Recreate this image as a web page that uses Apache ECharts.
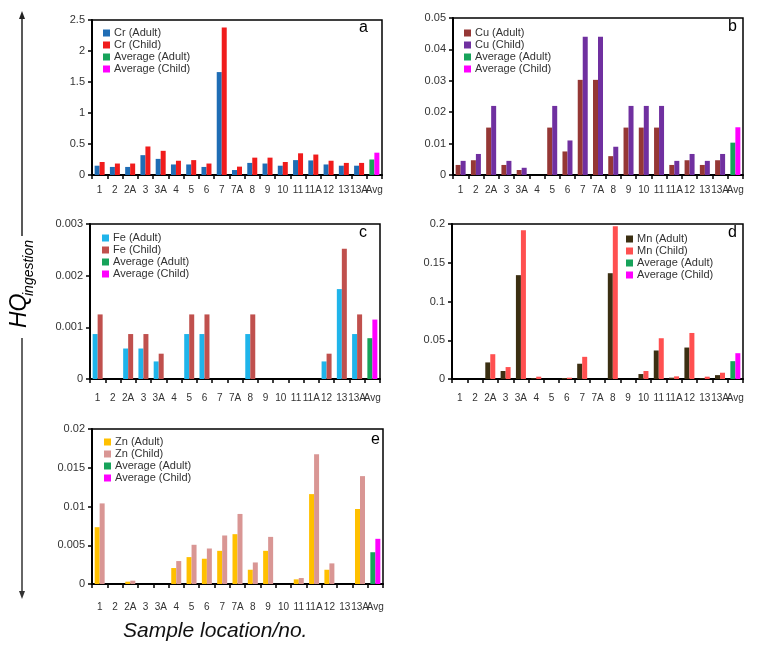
<!DOCTYPE html>
<html><head><meta charset="utf-8">
<script src="https://cdn.jsdelivr.net/npm/echarts@6/dist/echarts.min.js"></script>
<style>html,body{margin:0;padding:0;background:#fff}#c{width:769px;height:657px}</style>
</head><body><div id="c"></div>
<script>
const categories = ['1','2','2A','3','3A','4','5','6','7','7A','8','9','10','11','11A','12','13','13A','Avg'];
// values for sites 1..13A (Avg handled by the average arrays)
const crAdult = [0.15,0.13,0.13,0.32,0.26,0.17,0.17,0.13,1.66,0.08,0.195,0.185,0.15,0.24,0.235,0.17,0.15,0.15];
const crChild = [0.21,0.185,0.185,0.46,0.39,0.23,0.24,0.185,2.38,0.135,0.28,0.28,0.21,0.35,0.33,0.23,0.195,0.195];
const crAverage = [0.25,0.36];
const cuAdult = [0.0032,0.0047,0.0151,0.0032,0.0016,0,0.0151,0.0075,0.0303,0.0303,0.006,0.0151,0.0151,0.0151,0.0032,0.0047,0.0032,0.0047];
const cuChild = [0.0045,0.0067,0.022,0.0045,0.0023,0,0.022,0.011,0.044,0.044,0.009,0.022,0.022,0.022,0.0045,0.0067,0.0045,0.0067];
const cuAverage = [0.0103,0.0152];
const feAdult = [0.00087,0,0.00059,0.00059,0.00034,0,0.00087,0.00087,0,0,0.00087,0,0,0,0,0.00034,0.00174,0.00087];
const feChild = [0.00125,0,0.00087,0.00087,0.00049,0,0.00125,0.00125,0,0,0.00125,0,0,0,0,0.00049,0.00252,0.00125];
const feAverage = [0.00079,0.00115];
const mnAdult = [0,0,0.0214,0.0103,0.134,0.001,0,0.0013,0.0197,0,0.1365,0,0.0064,0.0368,0.0017,0.0406,0.0009,0.005];
const mnChild = [0,0,0.032,0.0154,0.192,0.003,0,0.0017,0.0286,0,0.197,0,0.0103,0.0526,0.0034,0.0594,0.003,0.0081];
const mnAverage = [0.023,0.0333];
const znAdult = [0.00733,0,0.0003,0,0,0.00206,0.00347,0.00326,0.00428,0.00643,0.00184,0.00428,0,0.0006,0.0116,0.00184,0,0.00968];
const znChild = [0.0104,0,0.00043,0,0,0.00296,0.00506,0.00458,0.00626,0.00904,0.00278,0.00608,0,0.00077,0.01675,0.00266,0,0.01392];
const znAverage = [0.0041,0.00583];
const yTicks = {a:[0,2.5,0.5], b:[0,0.05,0.01], c:[0,0.003,0.001], d:[0,0.2,0.05], e:[0,0.02,0.005]};

const FONT = "'Liberation Sans', Arial, sans-serif";
const panels = [
  {key:'a', el:'Cr', adult:crAdult, child:crChild, avg:crAverage, ca:'#1f6db5', cc:'#f01c1c',
   grid:{left:92,top:20,width:290,height:155}, legend:{left:103,top:27}, label:[364,30], lm:10},
  {key:'b', el:'Cu', adult:cuAdult, child:cuChild, avg:cuAverage, ca:'#953735', cc:'#7030a0',
   grid:{left:453,top:18,width:290,height:157}, legend:{left:464,top:27}, label:[733,29], lm:10},
  {key:'c', el:'Fe', adult:feAdult, child:feChild, avg:feAverage, ca:'#1fb4ea', cc:'#c0504d',
   grid:{left:90,top:224,width:290,height:155}, legend:{left:102,top:232}, label:[364,235], lm:14},
  {key:'d', el:'Mn', adult:mnAdult, child:mnChild, avg:mnAverage, ca:'#3b2f12', cc:'#ff5050',
   grid:{left:452,top:224,width:291,height:155}, legend:{left:626,top:233}, label:[733,235], lm:14},
  {key:'e', el:'Zn', adult:znAdult, child:znChild, avg:znAverage, ca:'#ffc000', cc:'#d99694',
   grid:{left:92,top:429,width:291,height:155}, legend:{left:104,top:436}, label:[376,442], lm:18}
];
const AVG_A = '#17a35a', AVG_C = '#ff00ff';
const blanks = categories.slice(0, categories.length - 1).map(() => '-');

const option = {
  animation:false, backgroundColor:'#fff',
  textStyle:{fontFamily:FONT},
  grid:[], xAxis:[], yAxis:[], legend:[], series:[], graphic:[]
};
panels.forEach((p, i) => {
  option.grid.push(Object.assign({show:true, borderColor:'#000', borderWidth:1.5, backgroundColor:'transparent'}, p.grid));
  option.xAxis.push({type:'category', gridIndex:i, data:categories, boundaryGap:true,
    axisLine:{lineStyle:{color:'#000', width:2}},
    axisTick:{show:true, length:4, lineStyle:{color:'#000', width:1.5}},
    axisLabel:{interval:0, fontSize:10, color:'#333', margin:p.lm, fontFamily:FONT}});
  const t = yTicks[p.key];
  option.yAxis.push({type:'value', gridIndex:i, min:t[0], max:t[1], interval:t[2],
    axisLine:{show:true, lineStyle:{color:'#000', width:2}},
    axisTick:{show:true, length:4, lineStyle:{color:'#000', width:1.5}},
    splitLine:{show:false},
    axisLabel:{fontSize:11, color:'#333', margin:7, fontFamily:FONT}});
  const nA = p.el + ' (Adult)', nC = p.el + ' (Child)';
  const common = {type:'bar', xAxisIndex:i, yAxisIndex:i, barWidth:5, barGap:'0%'};
  option.series.push(Object.assign({name:nA, stack:p.key+'A', itemStyle:{color:p.ca}, data:p.adult.concat(['-'])}, common));
  option.series.push(Object.assign({name:nC, stack:p.key+'C', itemStyle:{color:p.cc}, data:p.child.concat(['-'])}, common));
  option.series.push(Object.assign({name:'Average (Adult)', stack:p.key+'A', itemStyle:{color:AVG_A}, data:blanks.concat([p.avg[0]])}, common));
  option.series.push(Object.assign({name:'Average (Child)', stack:p.key+'C', itemStyle:{color:AVG_C}, data:blanks.concat([p.avg[1]])}, common));
  option.legend.push({orient:'vertical', left:p.legend.left, top:p.legend.top, itemWidth:7, itemHeight:7, itemGap:0,
    icon:'rect', selectedMode:false, padding:0,
    textStyle:{fontSize:11, color:'#333', lineHeight:12, fontFamily:FONT, padding:[0,0,0,-1]},
    data:[nA, nC, 'Average (Adult)', 'Average (Child)']});
  option.graphic.push({type:'text', left:p.label[0]-5, top:p.label[1]-10,
    style:{text:p.key, fontSize:16, fill:'#000', font:'16px '+FONT}});
});
// y title with arrows
option.graphic.push({type:'group', x:31, y:328, rotation:Math.PI/2, children:[
  {type:'text', x:0, y:0, style:{text:'HQ', font:'italic 23px '+FONT, fill:'#000', textAlign:'left', textVerticalAlign:'bottom'}},
  {type:'text', x:32, y:5, style:{text:'ingestion', font:'italic 14px '+FONT, fill:'#000', textAlign:'left', textVerticalAlign:'bottom'}}
]});
option.graphic.push({type:'line', shape:{x1:22, y1:14, x2:22, y2:236}, style:{stroke:'#222', lineWidth:1.5}});
option.graphic.push({type:'polygon', shape:{points:[[22,11],[19,19],[25,19]]}, style:{fill:'#222'}});
option.graphic.push({type:'line', shape:{x1:22, y1:338, x2:22, y2:596}, style:{stroke:'#333', lineWidth:1.5}});
option.graphic.push({type:'polygon', shape:{points:[[22,599],[19,591],[25,591]]}, style:{fill:'#333'}});
option.graphic.push({type:'text', left:123, top:621, style:{text:'Sample location/no.', font:'italic 21px '+FONT, fill:'#111'}});
const chart = echarts.init(document.getElementById('c'), null, {renderer:'canvas'});
chart.setOption(option);
</script></body></html>
